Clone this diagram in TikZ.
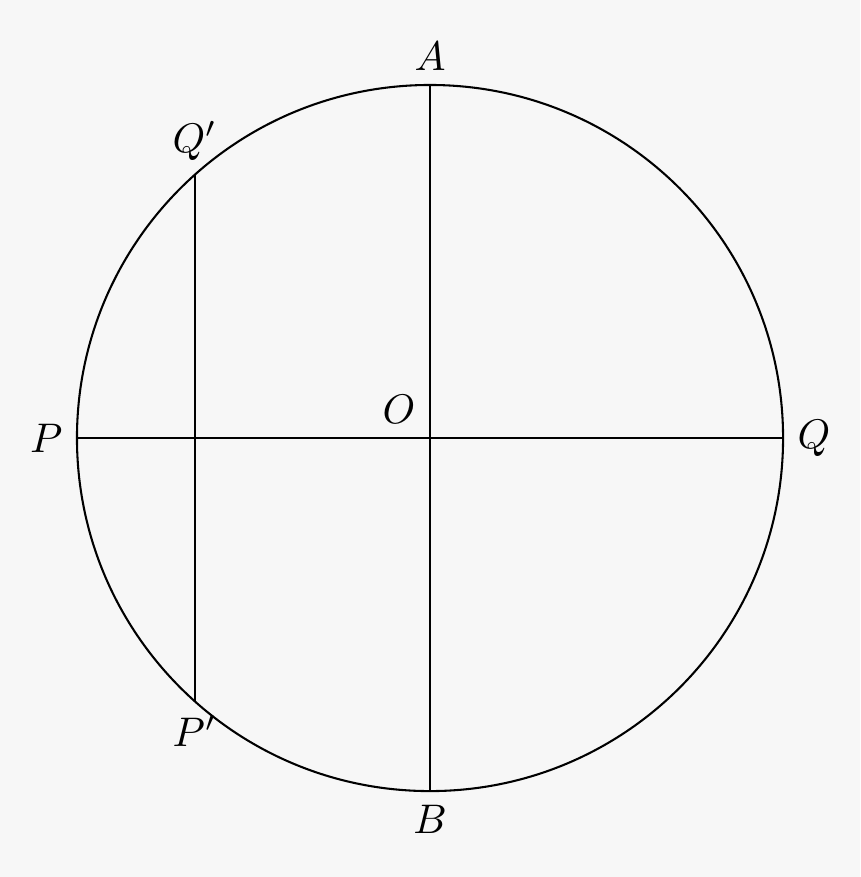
\documentclass[tikz,border=0pt]{standalone}
\usepackage{tikz}
\definecolor{bgray}{HTML}{F7F7F7}
\tikzset{chord/.style={
  draw=black,
  line width=0.5pt,
  }
}

\begin{document}
\begin{tikzpicture}[]
      \fill[bgray] (-3.654,-3.730) rectangle (3.654,3.722);
      \useasboundingbox (-3.654,-3.730) rectangle (3.654,3.722);

        \coordinate (O) at (0,0);
        \coordinate (A) at (90:3);
        \coordinate (B) at (270:3);
        \coordinate (P) at (180:3);
        \coordinate (Q) at (0:3);
        \coordinate (Qp) at ({acos(-2/3)}:3);
        \coordinate (Pp) at ({-acos(-2/3)}:3);

        \draw [chord] (O) circle (3);
        \draw [chord] (A) -- (B);
        \draw [chord] (P) -- (Q);
        \draw [chord] (Qp) -- (Pp);

        \node [above] (lA) at (A) { \( A \) };
        \node [below] (lB) at (B) { \( B \) };
        \node [left] (lP) at (P) { \( P \) };
        \node [right] (lQ) at (Q) { \( Q \) };
        \node [above left] (lO) at (O) { \( O \) };
        \node [above] (lQp) at (Qp) { \( Q' \) };
        \node [below] (lPp) at (Pp) { \( P' \) };
    \end{tikzpicture}
\end{document}
